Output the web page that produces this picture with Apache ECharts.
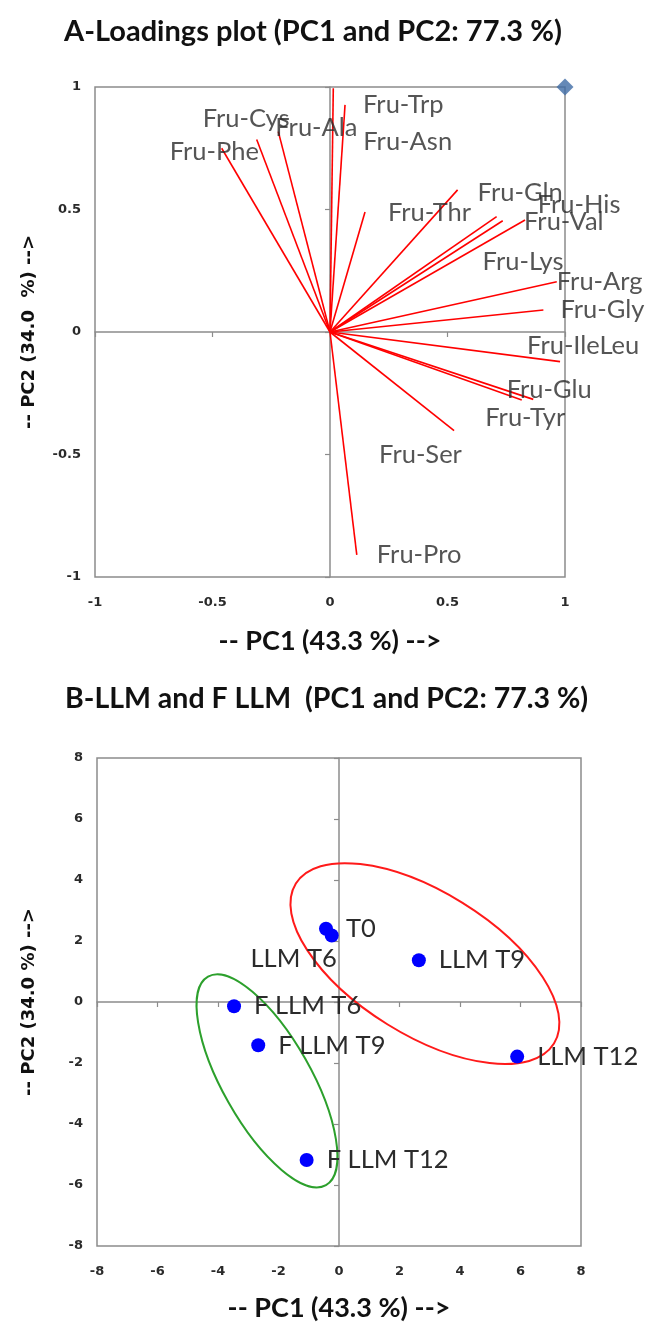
<!DOCTYPE html>
<html>
<head>
<meta charset="utf-8">
<script src="https://cdn.jsdelivr.net/npm/echarts@6/dist/echarts.min.js"></script>
<style>
  html, body { margin: 0; padding: 0; background: #fff; }
  #chart { width: 646px; height: 1323px; }
</style>
</head>
<body>
<div id="chart"></div>
<script>
// A - loadings
const loadingNames = ['Fru-Cys', 'Fru-Ala', 'Fru-Phe', 'Fru-Trp', 'Fru-Asn', 'Fru-Thr', 'Fru-Gln', 'Fru-His', 'Fru-Val',
  'Fru-Lys', 'Fru-Arg', 'Fru-Gly', 'Fru-IleLeu', 'Fru-Glu', 'Fru-Tyr', 'Fru-Ser', 'Fru-Pro'];
const pc1Loadings = [-0.312, -0.22, -0.461, 0.064, 0.014, 0.149, 0.543, 0.735, 0.83,
  0.709, 0.965, 0.908, 0.979, 0.816, 0.865, 0.528, 0.114];
const pc2Loadings = [0.786, 0.818, 0.75, 0.927, 0.995, 0.49, 0.58, 0.454, 0.457,
  0.471, 0.205, 0.09, -0.121, -0.278, -0.275, -0.403, -0.91];
// scale marker in the corner
const markerX = [1];
const markerY = [1];

// B - scores
const sampleNames = ['T0', 'LLM T6', 'LLM T9', 'LLM T12', 'F LLM T6', 'F LLM T9', 'F LLM T12'];
const pc1Scores = [-0.43, -0.24, 2.64, 5.89, -3.47, -2.67, -1.07];
const pc2Scores = [2.4, 2.18, 1.37, -1.79, -0.14, -1.42, -5.18];

// group ellipses: centre, semi axes (PC1 units), tilt in degrees
const ellipseCx = [2.84, -2.38];
const ellipseCy = [1.26, -2.585];
const ellipseA = [5.02, 3.96];
const ellipseB = [2.36, 1.46];
const ellipseTilt = [-31.8, -60.5];
const ellipseColors = ['#ff1a1a', '#2ca02c'];

const pcTicksA = [-1, -0.5, 0, 0.5, 1];
const pcTicksB = [-8, -6, -4, -2, 0, 2, 4, 6, 8];

// label nudges (px), as the labels were dragged around in the original
const loadingLabelShift = {
  'Fru-Cys': [-54, -21], 'Fru-Ala': [-3, -4], 'Fru-Phe': [-52, 4], 'Fru-Trp': [18, 0],
  'Fru-Asn': [30, 54], 'Fru-Thr': [23, 1], 'Fru-Gln': [20, 3], 'Fru-His': [35, -16],
  'Fru-Val': [-1, 2], 'Fru-Lys': [-14, 45], 'Fru-Arg': [0, 0], 'Fru-Gly': [17, 0],
  'Fru-IleLeu': [-33, -16], 'Fru-Glu': [-15, -10], 'Fru-Tyr': [-48, 18], 'Fru-Ser': [-75, 24],
  'Fru-Pro': [20, 0]
};

const gridGrey = '#8c8c8c';
const tickFont = { fontFamily: 'DejaVu Sans', fontSize: 13, fontWeight: 'bold', color: '#2a2a2a' };
const labelFont = { fontFamily: 'Lato', fontSize: 25.5, color: '#2b2b2b' };

function labelAxis(grid, dim, min, max, interval, name, gap) {
  const ax = {
    gridIndex: grid, type: 'value', min: min, max: max, interval: interval,
    position: dim === 'x' ? 'bottom' : 'left',
    axisLine: { show: false, onZero: false },
    axisTick: { show: false },
    splitLine: { show: false },
    axisLabel: Object.assign({ margin: dim === 'x' ? 19 : 14 }, tickFont),
    name: name, nameLocation: 'middle', nameGap: gap
  };
  if (dim === 'x') {
    ax.nameTextStyle = { fontFamily: 'Lato', fontWeight: 'bold', fontSize: 27, color: '#111' };
  } else {
    ax.nameRotate = 90;
    ax.nameTextStyle = { fontFamily: 'DejaVu Sans', fontWeight: 'bold', fontSize: 18, color: '#111' };
  }
  return ax;
}

function zeroAxis(grid, dim, min, max, interval, otherIdx) {
  return {
    gridIndex: grid, type: 'value', min: min, max: max, interval: interval,
    position: dim === 'x' ? 'bottom' : 'left',
    axisLine: { show: true, onZero: true, onZeroAxisIndex: otherIdx, lineStyle: { color: gridGrey, width: 1.5 } },
    axisTick: { show: true, length: 5, lineStyle: { color: gridGrey, width: 1.2 } },
    axisLabel: { show: false },
    splitLine: { show: false }
  };
}

const chart = echarts.init(document.getElementById('chart'));

const option = {
  backgroundColor: '#fff',
  animation: false,
  title: [
    { text: 'A-Loadings plot (PC1 and PC2: 77.3 %)', left: 64, top: 17, padding: 0,
      textStyle: { fontFamily: 'Lato', fontWeight: 'bold', fontSize: 29, color: '#111' } },
    { text: 'B-LLM and F LLM  (PC1 and PC2: 77.3 %)', left: 65, top: 684, padding: 0,
      textStyle: { fontFamily: 'Lato', fontWeight: 'bold', fontSize: 28.5, color: '#111' } }
  ],
  grid: [
    { left: 95, top: 87, width: 470, height: 490, show: true, borderColor: gridGrey, borderWidth: 1.5 },
    { left: 97, top: 758, width: 484, height: 489, show: true, borderColor: gridGrey, borderWidth: 1.5 }
  ],
  xAxis: [
    labelAxis(0, 'x', pcTicksA[0], pcTicksA[pcTicksA.length - 1], 0.5, '-- PC1 (43.3 %) -->', 51),
    zeroAxis(0, 'x', -1, 1, 0.5, 1),
    labelAxis(1, 'x', pcTicksB[0], pcTicksB[pcTicksB.length - 1], 2, '-- PC1 (43.3 %) -->', 49),
    zeroAxis(1, 'x', -8, 8, 2, 3)
  ],
  yAxis: [
    labelAxis(0, 'y', pcTicksA[0], pcTicksA[pcTicksA.length - 1], 0.5, '-- PC2 (34.0  %) -->', 57),
    zeroAxis(0, 'y', -1, 1, 0.5, 1),
    labelAxis(1, 'y', pcTicksB[0], pcTicksB[pcTicksB.length - 1], 2, '-- PC2 (34.0 %) -->', 59),
    zeroAxis(1, 'y', -8, 8, 2, 3)
  ],
  series: [
    {
      type: 'lines',
      coordinateSystem: 'cartesian2d',
      xAxisIndex: 0, yAxisIndex: 0,
      lineStyle: { color: '#ff0000', width: 1.6, opacity: 1 },
      data: loadingNames.map((n, i) => ({ name: n, coords: [[0, 0], [pc1Loadings[i], pc2Loadings[i]]] })),
      z: 3
    },
    {
      type: 'scatter',
      xAxisIndex: 0, yAxisIndex: 0,
      symbolSize: 0,
      data: loadingNames.map((n, i) => ({
        name: n,
        value: [pc1Loadings[i], pc2Loadings[i]],
        label: { offset: loadingLabelShift[n] }
      })),
      label: Object.assign({
        show: true, position: 'right', distance: 0,
        formatter: (p) => p.name
      }, labelFont),
      z: 4
    },
    {
      type: 'scatter',
      xAxisIndex: 0, yAxisIndex: 0,
      symbol: 'diamond', symbolSize: 17,
      itemStyle: { color: '#3e6ba5' },
      data: markerX.map((x, i) => [x, markerY[i]]),
      z: 5
    },
    {
      type: 'custom',
      xAxisIndex: 2, yAxisIndex: 2,
      data: ellipseCx.map((cx, i) => [cx, ellipseCy[i], ellipseA[i], ellipseB[i], ellipseTilt[i], i]),
      encode: { x: 0, y: 1 },
      renderItem: (params, api) => {
        const c = api.coord([api.value(0), api.value(1)]);
        const unit = api.size([1, 1]);
        return {
          type: 'ellipse',
          x: c[0], y: c[1],
          rotation: api.value(4) * Math.PI / 180,
          shape: { cx: 0, cy: 0, rx: api.value(2) * unit[0], ry: api.value(3) * unit[0] },
          style: { fill: 'none', stroke: ellipseColors[api.value(5)], lineWidth: 2 }
        };
      },
      silent: true,
      z: 3
    },
    {
      type: 'scatter',
      xAxisIndex: 2, yAxisIndex: 2,
      symbolSize: 14,
      itemStyle: { color: '#0000ff', opacity: 1 },
      data: sampleNames.map((n, i) => {
        const item = { name: n, value: [pc1Scores[i], pc2Scores[i]] };
        if (n === 'LLM T6') item.label = { position: 'left', distance: 5, offset: [17, 23] };
        return item;
      }),
      label: Object.assign({
        show: true, position: 'right', distance: 13,
        formatter: (p) => p.name
      }, labelFont),
      z: 4
    }
  ]
};

chart.setOption(option);
</script>
</body>
</html>
